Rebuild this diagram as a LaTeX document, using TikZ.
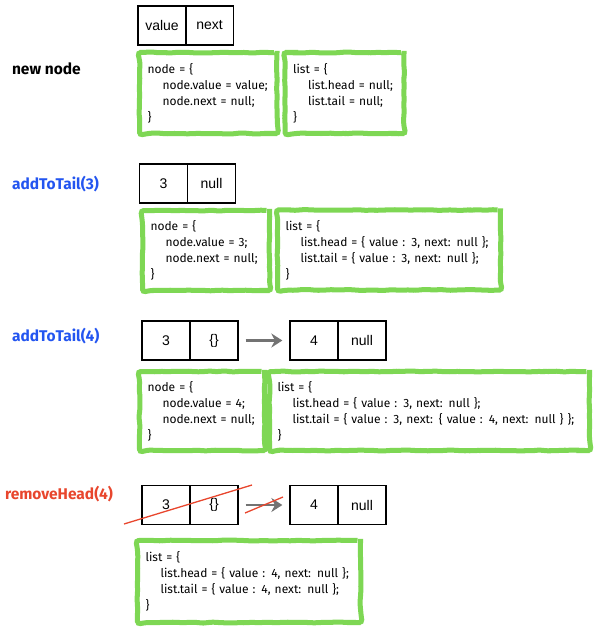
\documentclass[tikz,border=0pt]{standalone}
\usepackage{fontspec}
\setmainfont{Liberation Sans}
\newfontfamily\codefont{Fira Sans}
\usetikzlibrary{arrows.meta,decorations.pathmorphing}
\definecolor{grn}{RGB}{126,215,84}
\definecolor{lblblue}{RGB}{35,85,240}
\definecolor{lblred}{RGB}{232,70,45}
\definecolor{arrgray}{RGB}{115,115,115}
\begin{document}
\begin{tikzpicture}[x=1pt,y=-1pt,
  cell/.style={draw,line width=1.3pt,minimum width=48pt,minimum height=39pt,inner sep=0pt,
    font=\fontsize{14}{14}\selectfont},
  codebox/.style={draw=grn,line width=5pt,fill=white,rounded corners=3pt,
    inner xsep=8pt,inner ysep=0pt,align=left,
    font=\codefont\fontsize{12}{16}\selectfont,
    decorate,decoration={random steps,segment length=5pt,amplitude=0.5pt}},
  lbl/.style={anchor=west,font=\codefont\bfseries\fontsize{15.5}{16}\selectfont},
  garrow/.style={draw=arrgray,line width=2.6pt,-{Stealth[length=11pt,width=14pt]},
    shorten <=7pt,shorten >=7pt},
  strike/.style={draw=lblred,line width=1.3pt}]
\pgfmathsetseed{7}
\useasboundingbox (0,0) rectangle (600,634);
\newcommand{\ind}{\hspace*{15pt}}
% ---------- row 1: new node
\node[lbl] (l1) at (8.5,69) {new node};
\node[cell] (a1) at (162,25.5) {value};
\node[cell] (a2) at (209.5,25.5) {next};
\node[codebox,minimum height=81pt,text width=121.5pt] (b1) at (208.25,93)
  {node = \{\\ \ind node.value = value;\\ \ind node.next = null;\\ \}};
\node[codebox,minimum height=81pt,text width=103pt] (b2) at (344.5,93)
  {list = \{\\ \ind list.head = null;\\ \ind list.tail = null;\\ \}};
% ---------- row 2: addToTail(3)
\node[lbl,text=lblblue] (l2) at (8.5,184) {addToTail(3)};
\node[cell] (c1) at (163.5,183.5) {3};
\node[cell] (c2) at (211.5,183.5) {null};
\node[codebox,minimum height=80pt,text width=111pt] (d1) at (206,250.5)
  {node = \{\\ \ind node.value = 3;\\ \ind node.next = null;\\ \}};
\node[codebox,minimum height=80pt,text width=207pt] (d2) at (389,250)
  {list = \{\\ \ind list.head = \{ value : 3, next: null \};\\ \ind list.tail = \{ value : 3, next: null \};\\ \}};
% ---------- row 3: addToTail(4)
\node[lbl,text=lblblue] (l3) at (8.5,336) {addToTail(4)};
\node[cell] (e1) at (166,340.5) {3};
\node[cell] (e2) at (214,340.5) {\{\}};
\node[cell] (e3) at (314,340.5) {4};
\node[cell] (e4) at (362,340.5) {null};
\draw[garrow] (e2) -- (e3);
\node[codebox,minimum height=79pt,text width=109pt] (f1) at (202,411)
  {node = \{\\ \ind node.value = 4;\\ \ind node.next = null;\\ \}};
\node[codebox,minimum height=79pt,text width=304pt] (f2) at (429.5,411)
  {list = \{\\ \ind list.head = \{ value : 3, next: null \};\\ \ind list.tail = \{ value : 3, next: \{ value : 4, next: null \} \};\\ \}};
% ---------- row 4: removeHead(4)
\node[lbl,text=lblred] (l4) at (1.5,494) {removeHead(4)};
\node[cell] (g1) at (166,505) {3};
\node[cell] (g2) at (214,505) {\{\}};
\node[cell] (g3) at (314,505) {4};
\node[cell] (g4) at (362,505) {null};
\draw[garrow] (g2) -- (g3);
\coordinate (s1) at (124,524);
\coordinate (s2) at (252,485);
\coordinate (s3) at (245,513);
\coordinate (s4) at (283,497);
\draw[strike] (s1) -- (s2);
\draw[strike] (s3) -- (s4);
\node[codebox,minimum height=82pt,text width=207pt] (h1) at (249,581.5)
  {list = \{\\ \ind list.head = \{ value : 4, next: null \};\\ \ind list.tail = \{ value : 4, next: null \};\\ \}};
\end{tikzpicture}
\end{document}
